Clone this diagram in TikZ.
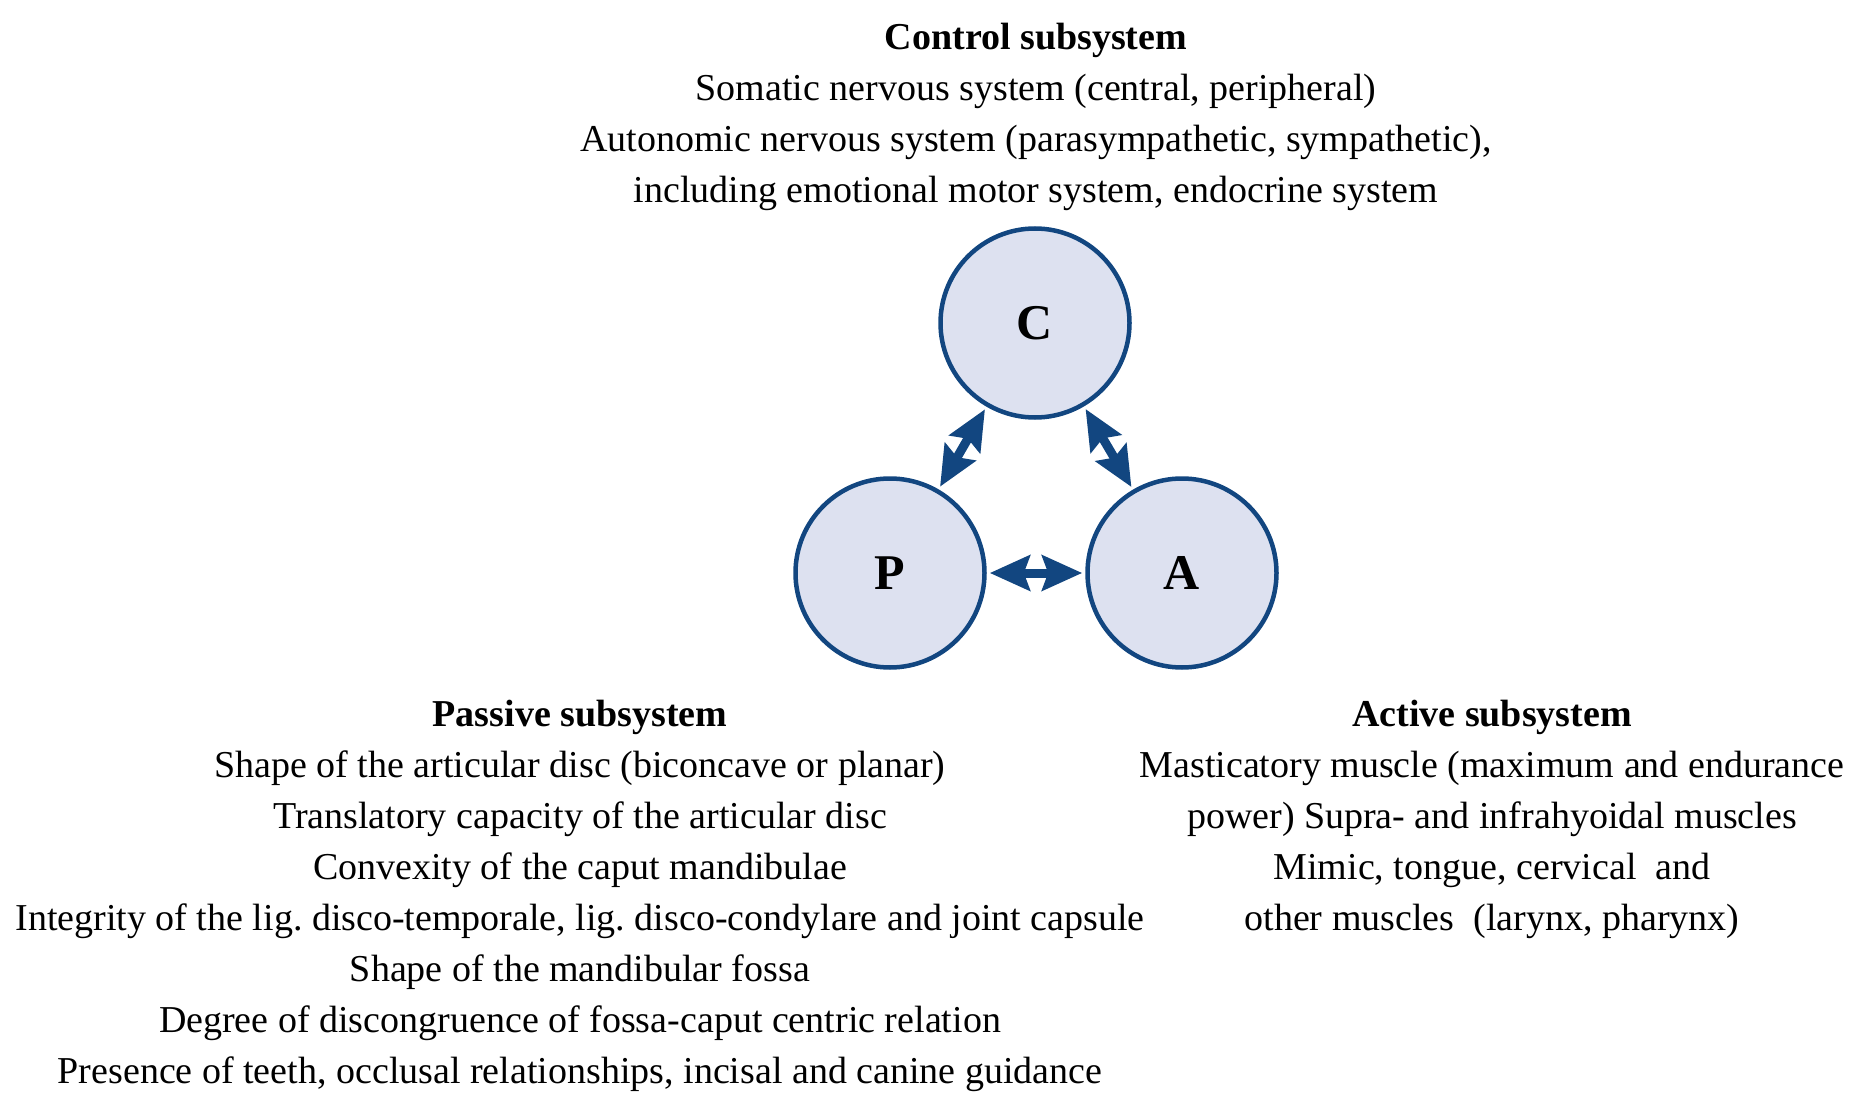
\documentclass[tikz,border=0pt]{standalone}
\usepackage{fontspec}
\setmainfont{Liberation Serif}
\frenchspacing
\usetikzlibrary{arrows.meta}
\definecolor{ringblue}{RGB}{18,70,128}
\definecolor{ringfill}{RGB}{221,225,240}

\begin{document}
\begin{tikzpicture}[x=1pt,y=-1pt,
  sub/.style={circle,draw=ringblue,fill=ringfill,line width=4.5pt,minimum size=189pt,inner sep=0pt,font=\fontsize{50}{50}\selectfont\bfseries},
  txt/.style={align=center,inner sep=0pt,anchor=north,font=\fontsize{38}{51}\selectfont},
  link/.style={draw=ringblue,line width=9pt,{Stealth[length=40pt,width=35pt,inset=6pt]}-{Stealth[length=40pt,width=35pt,inset=6pt]},shorten <=3pt,shorten >=3pt}]
\useasboundingbox (0,0) rectangle (1856,1094);

\node[sub] (c) at (1035,323) {C};
\node[sub] (p) at (890,573) {P};
\node[sub] (a) at (1182,573) {A};

\draw[link] (c) -- (p);
\draw[link] (c) -- (a);
\draw[link] (p) -- (a);

\node[txt] (ctext) at (1036,23) {\textbf{Control subsystem}\\
  Somatic nervous system (central, peripheral)\\
  Autonomic nervous system (parasympathetic, sympathetic),\\
  including emotional motor system, endocrine system};

\node[txt] (ptext) at (580,700) {\textbf{Passive subsystem}\\
  Shape of the articular disc (biconcave or planar)\\
  Translatory capacity of the articular disc\\
  Convexity of the caput mandibulae\\
  Integrity of the lig. disco-temporale, lig. disco-condylare and joint capsule\\
  Shape of the mandibular fossa\\
  Degree of discongruence of fossa-caput centric relation\\
  Presence of teeth, occlusal relationships, incisal and canine guidance};

\node[txt] (atext) at (1492,700) {\textbf{Active subsystem}\\
  Masticatory muscle (maximum and endurance\\
  power) Supra- and infrahyoidal muscles\\
  Mimic, tongue, cervical\ \ and\\
  other muscles\ \ (larynx, pharynx)};
\end{tikzpicture}
\end{document}
